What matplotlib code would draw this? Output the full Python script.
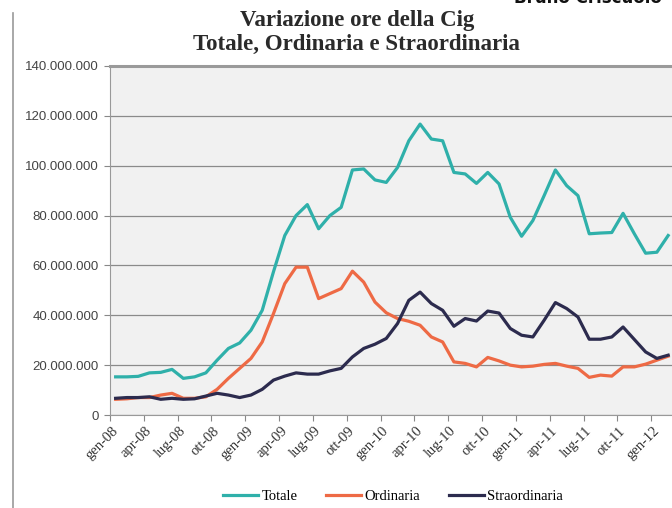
import numpy as np
import matplotlib.pyplot as plt
import matplotlib.transforms as mtransforms
from matplotlib.ticker import FuncFormatter

# ore di Cig autorizzate (milioni), mensili da gen-08 a feb-12
totale = [15.3, 15.3, 15.5, 16.9, 17.1, 18.3, 14.7, 15.3, 16.9, 22.0,
          26.7, 28.9, 34.0, 42.0, 57.5, 72.0, 80.0, 84.4, 74.7, 80.0,
          83.3, 98.3, 98.7, 94.3, 93.3, 99.3, 110.0, 116.7, 110.7, 110.0,
          97.3, 96.7, 92.9, 97.3, 92.7, 79.3, 71.7, 78.0, 88.0, 98.3,
          92.0, 88.0, 72.7, 73.0, 73.2, 80.9, 72.7, 64.9, 65.3, 72.0]
ordinaria = [6.3, 6.5, 7.0, 7.0, 8.0, 8.7, 6.7, 6.7, 7.3, 10.3,
             14.7, 18.7, 22.7, 29.3, 40.7, 52.7, 59.3, 59.3, 46.7, 48.7,
             50.7, 57.7, 53.3, 45.3, 41.0, 38.7, 37.6, 36.0, 31.3, 29.3,
             21.3, 20.7, 19.3, 23.1, 21.7, 20.0, 19.3, 19.6, 20.3, 20.7,
             19.6, 18.7, 15.1, 16.0, 15.6, 19.3, 19.3, 20.4, 22.0, 23.6]
straordinaria = [6.7, 7.0, 7.0, 7.3, 6.3, 6.7, 6.3, 6.5, 7.6, 8.7,
                 8.0, 7.0, 8.0, 10.3, 14.0, 15.6, 16.9, 16.4, 16.4, 17.7,
                 18.7, 23.3, 26.7, 28.4, 30.7, 36.7, 46.0, 49.3, 44.7, 42.0,
                 35.6, 38.7, 37.7, 41.7, 40.9, 34.7, 32.0, 31.3, 38.0, 45.1,
                 42.7, 39.3, 30.4, 30.4, 31.3, 35.3, 30.3, 25.3, 22.7, 24.0]

tick_labels = ['gen-08', 'apr-08', 'lug-08', 'ott-08', 'gen-09', 'apr-09',
               'lug-09', 'ott-09', 'gen-10', 'apr-10', 'lug-10', 'ott-10',
               'gen-11', 'apr-11', 'lug-11', 'ott-11', 'gen-12']

serie = [('Totale', totale, '#2fb0aa'),
         ('Ordinaria', ordinaria, '#ee6a45'),
         ('Straordinaria', straordinaria, '#2c2b4e')]

serif = ['Liberation Serif', 'DejaVu Serif']

fig = plt.figure(figsize=(6.72, 5.08), dpi=100)
fig.patch.set_facecolor('white')
ax = fig.add_axes([110 / 672, 93 / 508, 562 / 672, 349 / 508])
ax.set_facecolor('#f1f1f1')

x = np.arange(len(totale))
for nome, valori, colore in serie:
    ax.plot(x, np.array(valori) * 1e6, color=colore, lw=2.3, label=nome,
            solid_joinstyle='round')

ax.set_ylim(0, 140e6)
ax.set_xlim(-0.5, 49.34)
ax.set_yticks(np.arange(0, 140e6 + 1, 20e6))
ax.yaxis.set_major_formatter(FuncFormatter(lambda v, p: f'{int(v):,}'.replace(',', '.')))
ax.grid(axis='y', color='#8a8a8a', lw=0.9)
ax.set_axisbelow(True)

pos = np.arange(len(tick_labels)) * 3 - 0.5
ax.set_xticks(pos)
ax.set_xticklabels(tick_labels, rotation=45, ha='right', va='center',
                   rotation_mode='anchor', family=serif, fontsize=10.5,
                   color='#333333')
ax.tick_params(axis='x', length=4, color='#888888', pad=6)
ax.tick_params(axis='y', length=4, color='#888888', labelsize=9.5,
               labelcolor='#444444', pad=4)
for lab in ax.get_yticklabels():
    lab.set_family(['Liberation Sans', 'DejaVu Sans'])

# sposta le etichette delle date un po' a destra
shift = mtransforms.ScaledTranslation(6 / 100, 0, fig.dpi_scale_trans)
for lab in ax.get_xticklabels():
    lab.set_transform(lab.get_transform() + shift)

for s in ['left', 'bottom']:
    ax.spines[s].set_color('#999999')
ax.spines['top'].set_color('#9a9a9a')
ax.spines['top'].set_linewidth(2.2)
ax.spines['right'].set_visible(False)

fig.text(0.531, 0.96, 'Variazione ore della Cig', ha='center', va='center',
         family=serif, fontsize=16.5, fontweight='bold', color='#2a2a2a')
fig.text(0.531, 0.913, 'Totale, Ordinaria e Straordinaria', ha='center', va='center',
         family=serif, fontsize=16.5, fontweight='bold', color='#2a2a2a')
fig.text(0.985, 1.003, 'Bruno Criscuolo', ha='right', va='center',
         fontsize=12, fontweight='bold', color='#111111')

# filo verticale della pagina
fig.add_artist(plt.Line2D([13 / 672, 13 / 672], [0, 0.975], color='#999999', lw=1.2))

fig.legend(loc='center', bbox_to_anchor=(0.585, 0.022), ncol=3, frameon=False,
           prop={'family': serif, 'size': 10.5}, handlelength=2.4,
           handletextpad=0.2, columnspacing=2.0)

fig.savefig('out.png', dpi=100)
